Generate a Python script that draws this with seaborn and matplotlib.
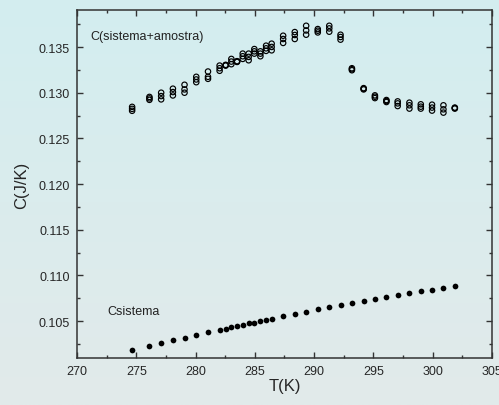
import numpy as np
import pandas as pd
import matplotlib
matplotlib.use('Agg')
import matplotlib.pyplot as plt
import seaborn as sns
from matplotlib.ticker import MultipleLocator

# temperatures (K)
temp = [274.65, 276.11, 277.10, 278.09, 279.07, 280.06, 281.05, 282.03, 282.54,
        283.02, 283.50, 283.98, 284.48, 284.96, 285.47, 285.95, 286.42, 287.39,
        288.37, 289.33, 290.31, 291.28, 292.23, 293.19, 294.18, 295.13, 296.10,
        297.05, 298.04, 299.00, 299.95, 300.91, 301.87]

# C sistema (filled dots)
c_sistema = [0.10184, 0.10228, 0.10257, 0.10290, 0.10319, 0.10348, 0.10377, 0.10402,
             0.10417, 0.10431, 0.10446, 0.10461, 0.10475, 0.10482, 0.10497, 0.10511,
             0.10526, 0.10551, 0.10576, 0.10598, 0.10627, 0.10649, 0.10671, 0.10693,
             0.10718, 0.10740, 0.10761, 0.10783, 0.10805, 0.10824, 0.10845, 0.10864,
             0.10881]

# C(sistema+amostra), three runs (open circles)
c_total_1 = [0.12845, 0.12954, 0.13000, 0.13044, 0.13087, 0.13174, 0.13232, 0.13297,
             0.13305, 0.13370, 0.13345, 0.13428, 0.13428, 0.13478, 0.13453, 0.13515,
             0.13537, 0.13624, 0.13664, 0.13733, 0.13697, 0.13733, 0.13635, 0.13268,
             0.13050, 0.12971, 0.12920, 0.12905, 0.12891, 0.12873, 0.12869, 0.12862,
             0.12837]
c_total_2 = [0.12823, 0.12938, 0.12963, 0.13007, 0.13036, 0.13145, 0.13174, 0.13268,
             0.13301, 0.13341, 0.13341, 0.13399, 0.13392, 0.13453, 0.13428, 0.13486,
             0.13501, 0.13588, 0.13632, 0.13682, 0.13679, 0.13704, 0.13610, 0.13257,
             0.13043, 0.12956, 0.12909, 0.12883, 0.12862, 0.12847, 0.12837, 0.12818,
             0.12832]
c_total_3 = [0.12802, 0.12922, 0.12927, 0.12970, 0.13000, 0.13115, 0.13152, 0.13240,
             0.13297, 0.13312, 0.13337, 0.13370, 0.13355, 0.13428, 0.13399, 0.13458,
             0.13464, 0.13545, 0.13588, 0.13635, 0.13660, 0.13668, 0.13581, 0.13246,
             0.13036, 0.12941, 0.12898, 0.12854, 0.12826, 0.12826, 0.12804, 0.12782,
             0.12826]

sns.set_style('ticks')
plt.rcParams['font.family'] = ['Liberation Sans', 'DejaVu Sans']

total = pd.DataFrame({'T': temp * 3, 'C': c_total_1 + c_total_2 + c_total_3})
sis = pd.DataFrame({'T': temp, 'C': c_sistema})

fig = plt.figure(figsize=(4.99, 4.06), dpi=100)

# gradient background
bg = fig.add_axes([0, 0, 1, 1], zorder=-10)
grad = np.linspace(0, 1, 256).reshape(-1, 1)
top_c = np.array([211, 238, 240]) / 255
bot_c = np.array([226, 234, 234]) / 255
img = top_c[None, None, :] * (1 - grad[:, :, None]) + bot_c[None, None, :] * grad[:, :, None]
bg.imshow(img, aspect='auto', extent=[0, 1, 0, 1])
bg.axis('off')

ax = fig.add_axes([0.1543, 0.1155, 0.8315, 0.8575])
ax.patch.set_alpha(0)

sns.scatterplot(data=total, x='T', y='C', ax=ax, marker='o', s=15,
                facecolor='none', edgecolor='black', linewidth=0.85)
sns.scatterplot(data=sis, x='T', y='C', ax=ax, marker='o', s=17,
                color='black', edgecolor='black', linewidth=0)

ax.set_xlim(270, 305)
ax.set_ylim(0.10094, 0.13906)
ax.xaxis.set_major_locator(MultipleLocator(5))
ax.xaxis.set_minor_locator(MultipleLocator(2.5))
ax.yaxis.set_major_locator(MultipleLocator(0.005))
ax.yaxis.set_minor_locator(MultipleLocator(0.0025))
ax.yaxis.set_major_formatter(matplotlib.ticker.FormatStrFormatter('%.3f'))

ax.tick_params(which='both', direction='in', top=True, right=True,
               labeltop=False, labelright=False, color='#333333',
               labelsize=9, pad=5)
ax.tick_params(which='major', length=4, width=1)
ax.tick_params(which='minor', length=2.5, width=1)
for sp in ax.spines.values():
    sp.set_visible(True)
    sp.set_color('#333333')
    sp.set_linewidth(1.1)

ax.set_xlabel('T(K)', fontsize=12, labelpad=1)
ax.set_ylabel('C(J/K)', fontsize=12, labelpad=7)

ax.text(271.15, 0.13624, 'C(sistema+amostra)', fontsize=9, va='center', ha='left',
        color='#222222')
ax.text(272.6, 0.10609, 'Csistema', fontsize=9, va='center', ha='left',
        color='#222222')

fig.savefig('out.png', dpi=100)
